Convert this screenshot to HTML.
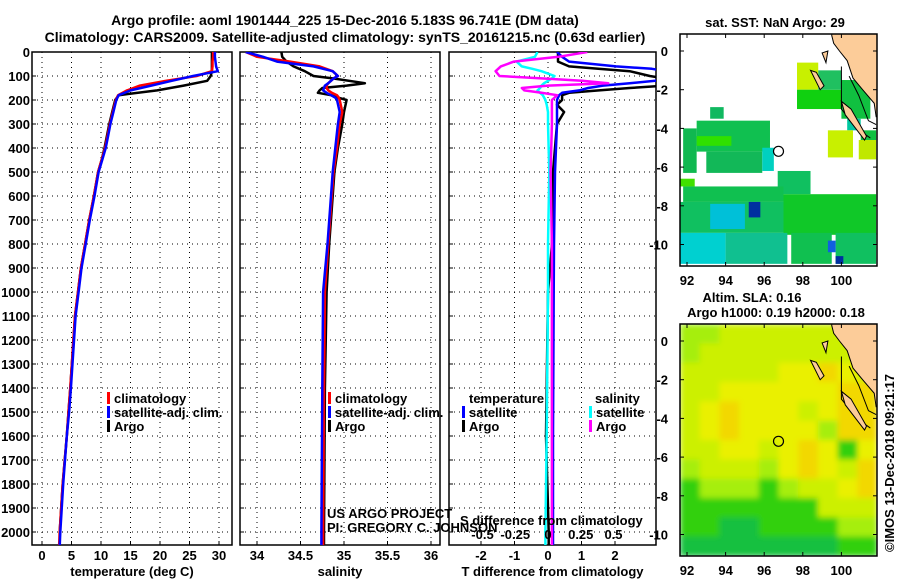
<!DOCTYPE html>
<html><head><meta charset="utf-8"><style>
body{margin:0;background:#fff}
svg{display:block;font-family:"Liberation Sans",Arial,sans-serif}
.b{font-weight:bold;font-size:13px}
.t{font-weight:bold;font-size:14px}
</style></head><body>
<svg id="svg" width="900" height="580" viewBox="0 0 900 580">
<defs><filter id="blur" x="0" y="0" width="1" height="1"><feGaussianBlur stdDeviation="3" edgeMode="duplicate"/></filter></defs>
<text class="t" x="345" y="25" text-anchor="middle">Argo profile: aoml 1901444_225 15-Dec-2016 5.183S 96.741E (DM data)</text>
<text class="t" x="345" y="42" text-anchor="middle">Climatology: CARS2009. Satellite-adjusted climatology: synTS_20161215.nc (0.63d earlier)</text>
</svg>
<script>
// ---------- data ----------
const depthT = [0,20,40,60,80,100,120,140,160,180,200,250,300,350,400,450,500,600,700,800,900,1000,1100,1400,1500,1600,1800,2000,2060];
const tempClim = [29,29,28.9,28.9,28.8,26.2,21,16.6,14.4,12.9,12.5,12.0,11.5,11.1,10.7,10.1,9.5,8.8,8,7.3,6.6,6.1,5.6,4.8,4.5,4.2,3.5,3.0,2.9];
const tempArgo = [28.8,28.8,28.8,28.8,28.8,28.6,28,24,19.5,13,12.4,11.9,11.4,11.0,10.6,10.1,9.5,8.8,8,7.3,6.6,6.1,5.6,4.8,4.5,4.2,3.5,3.0,3.0];
const tempSat  = [29.3,29.3,29.4,29.5,29.8,25.6,22,18.5,15,13,12.6,12.1,11.6,11.2,10.8,10.2,9.6,8.9,8.1,7.4,6.7,6.2,5.7,4.9,4.6,4.2,3.6,3.1,3.0];
const depthS = [0,20,40,60,80,100,110,130,140,150,160,170,180,190,200,250,300,400,500,600,800,1000,1400,2000,2060];
const salClim = [33.87,34.0,34.38,34.72,34.87,34.93,34.88,34.82,34.8,34.8,34.82,34.86,34.92,34.94,34.95,34.98,34.95,34.92,34.88,34.86,34.82,34.78,34.77,34.76,34.76];
const salArgo = [34.28,34.29,34.34,34.42,34.55,34.65,34.87,35.24,35.03,34.75,34.72,34.7,34.85,34.93,35.03,35.0,34.98,34.93,34.89,34.87,34.83,34.8,34.78,34.77,34.77];
const salSat  = [33.87,34.07,34.23,34.65,34.87,34.93,34.88,34.82,34.78,34.77,34.76,34.8,34.85,34.9,34.92,34.95,34.93,34.9,34.87,34.85,34.81,34.76,34.75,34.74,34.74];
const depthD = [0,20,40,60,70,80,100,110,120,130,140,150,160,170,180,200,220,250,300,500,800,1000,1600,2000,2060];
const dTSat  = [0.27,0.42,0.63,2.03,3.1,3.5,3.5,3.4,3.2,2.44,1.64,1.2,0.93,0.42,0.33,0.27,0.27,0.27,0.27,0.21,0.18,0.17,0.15,0.15,0.15];
const dTArgo = [0.3,0.3,0.3,0.63,1.5,2.44,3.04,3.5,3.5,3.5,3.5,2.44,1.52,0.63,0.42,0.42,0.27,0.48,0.27,0.15,0.12,0.0,-0.06,0.02,0.02];
const dSArgo = [0.3,0.08,-0.26,-0.36,-0.38,-0.4,-0.37,-0.05,0.26,0.46,0,-0.2,-0.18,-0.05,0.07,0.03,0.03,0.03,0.03,0.02,0.03,0.03,0.03,0.03,0.03];
const dSSat  = [-0.08,-0.1,-0.24,-0.2,-0.12,-0.05,0.05,0.03,0,-0.03,-0.05,-0.06,-0.08,-0.06,-0.04,-0.02,-0.01,0,0,0.01,0,0,-0.01,-0.02,-0.02];
const depthTicks = [0,100,200,300,400,500,600,700,800,900,1000,1100,1200,1300,1400,1500,1600,1700,1800,1900,2000];
const tempTicks = [0,5,10,15,20,25,30];
const salTicks = [34,34.5,35,35.5,36];
const dTTicks = [-2,-1,0,1,2];
const dSTicks = [-0.5,-0.25,0,0.25,0.5];
// SLA grid (rows north->south, cols west->east)
const slaRows = ["ggyyyyyyyy","gyyyyyyyyy","yyyyyYYoYy","yyYYYYYYoo","yYoYYYyYoo","yYoYYYYgoo","yyYYyYoYGY","gyyygYoYyo","GgggGgyyYo","GGGGGGGyyy","GGDDGGGGgg","DDDDDDDDGG"];
const slaColors = {g:"#a6ee10",y:"#ccf000",Y:"#eaf000",o:"#f2d800",G:"#30d010",D:"#12c040"};
// SST patches: [lon0, lat0, lon1, lat1, color]
const sstPatches = [
 [97.7,-0.6,98.8,-2.0,"#c8f000"],[97.7,-2.0,100.0,-3.0,"#10d010"],[98.8,-1.0,100.0,-2.0,"#20c060"],
 [100.0,-1.5,101.5,-3.5,"#10c040"],[100.3,-3.5,101.0,-4.1,"#00c8a0"],
 [99.3,-4.1,100.6,-5.5,"#c8f000"],[100.9,-4.6,101.8,-5.6,"#c0e800"],[101.0,-4.1,101.8,-4.6,"#10c040"],
 [93.2,-2.9,93.9,-3.5,"#10b860"],[91.8,-4.0,92.5,-6.3,"#10b850"],[92.5,-3.6,96.3,-5.2,"#10c050"],
 [93.0,-5.2,95.9,-6.3,"#12b858"],[95.9,-5.0,96.5,-6.2,"#00d0c0"],[92.5,-4.4,94.3,-4.9,"#30e000"],
 [96.7,-6.2,98.4,-7.4,"#10c060"],[91.6,-6.6,92.4,-7.0,"#40e000"],
 [91.8,-7.0,97.0,-7.8,"#10c050"],[97.0,-7.4,101.8,-9.5,"#10c828"],[91.6,-7.8,97.0,-9.4,"#10c060"],
 [93.2,-7.9,95.0,-9.2,"#00c0d8"],[95.2,-7.8,95.8,-8.6,"#0030a0"],
 [91.6,-9.4,94.0,-11.0,"#00d0d0"],[94.0,-9.4,97.2,-11.0,"#10c090"],[97.4,-9.4,99.5,-11.0,"#10c050"],
 [99.7,-9.4,101.8,-11.0,"#10c060"],[99.7,-10.6,100.1,-11.0,"#0030a0"],[99.3,-9.8,99.7,-10.4,"#1060e0"]
];
const argoLon = 96.741, argoLat = -5.183;
const coastLon = [99.5,99.6,99.9,100.3,100.6,101.1,101.7,101.8];
const coastLat = [0.8,0.4,0,-0.5,-1.4,-2.0,-2.7,-3.4];

// ---------- helpers ----------
const NS="http://www.w3.org/2000/svg", svg=document.getElementById('svg');
function el(tag,attrs,parent){const e=document.createElementNS(NS,tag);for(const k in attrs)e.setAttribute(k,attrs[k]);(parent||svg).appendChild(e);return e;}
function txt(s,x,y,cls,anchor,parent){const e=el('text',{x:x,y:y,class:cls||'b','text-anchor':anchor||'middle'},parent);e.textContent=s;return e;}
const yD = d => 52 + d*0.24;
const PB=545;
const panels = [
 {x0:32,x1:232,fx:v=>42+5.9*v,ticks:tempTicks,lab:v=>String(v),title:"temperature (deg C)",name:"temperature"},
 {x0:240,x1:440,fx:v=>257+87*(v-34),ticks:salTicks,lab:v=>String(v),title:"salinity",name:"salinity"},
 {x0:449,x1:656,fx:v=>548+33.5*v,ticks:dTTicks,lab:v=>String(v),title:"T difference from climatology",name:"difference"}
];
const fS = v => 548+131*v;
panels.forEach((p,i)=>{
  const g=el('g',{});
  
  
  const cp=el('clipPath',{id:'cp'+i},g); el('rect',{x:p.x0,y:52,width:p.x1-p.x0,height:PB-52},cp);
  depthTicks.forEach(d=>{const l=el('line',{x1:p.x0,x2:p.x1,y1:yD(d),y2:yD(d),stroke:'#000','stroke-width':1,'stroke-dasharray':'1 4'},g);
     
    el('line',{x1:p.x0,x2:p.x0+4,y1:yD(d),y2:yD(d),stroke:'#000'},g);});
  p.ticks.forEach(v=>{const x=p.fx(v); el('line',{x1:x,x2:x,y1:52,y2:PB,stroke:'#000','stroke-dasharray':'1 4'},g);
    el('line',{x1:x,x2:x,y1:PB,y2:PB-4,stroke:'#000'},g);
    const t=txt(p.lab(v),x,560,'b','middle',g);  });
  el('rect',{x:p.x0,y:52,width:p.x1-p.x0,height:PB-52,fill:'none',stroke:'#000','stroke-width':1.5},g);
  const tt=txt(p.title,(p.x0+p.x1)/2,576,'b','middle',g);
   
  p.g=g;
});
depthTicks.forEach(d=>{const t=txt(String(d),30,yD(d)+5,'b','end');  });

function line(g,clip,ds,vs,f,color,w,name){
  const pts=ds.map((d,i)=>f(vs[i]).toFixed(1)+','+yD(d).toFixed(1)).join(' ');
  const pl=el('polyline',{points:pts,fill:'none',stroke:color,'stroke-width':w,'clip-path':'url(#'+clip+')','stroke-linejoin':'round'},g);
   
}
line(panels[0].g,'cp0',depthT,tempArgo,panels[0].fx,'#000',2.5,'temp-argo-line');
line(panels[0].g,'cp0',depthT,tempClim,panels[0].fx,'#f00',2.5,'temp-climatology-line');
line(panels[0].g,'cp0',depthT,tempSat,panels[0].fx,'#00f',2.5,'temp-satellite-line');
line(panels[1].g,'cp1',depthS,salArgo,panels[1].fx,'#000',2.5,'sal-argo-line');
line(panels[1].g,'cp1',depthS,salClim,panels[1].fx,'#f00',2.5,'sal-climatology-line');
line(panels[1].g,'cp1',depthS,salSat,panels[1].fx,'#00f',2.5,'sal-satellite-line');
line(panels[2].g,'cp2',depthD,dTArgo,panels[2].fx,'#000',2.5,'dT-argo-line');
line(panels[2].g,'cp2',depthD,dTSat,panels[2].fx,'#00f',2.5,'dT-satellite-line');
line(panels[2].g,'cp2',depthD,dSSat,fS,'#0ff',2.5,'dS-satellite-line');
line(panels[2].g,'cp2',depthD,dSArgo,fS,'#f0f',2.5,'dS-argo-line');

function legend(g,x,y,color,label){
  const r=el('rect',{x:x,y:y-6,width:3,height:12,fill:color},g);
   
  const t=txt(label,x+7,y+5,'b','start',g);
   
}
[[panels[0].g,107],[panels[1].g,328]].forEach(([g,x])=>{
  legend(g,x,398,'#f00','climatology'); legend(g,x,412,'#00f','satellite-adj. clim.'); legend(g,x,426,'#000','Argo');});
let g3=panels[2].g;
let th=txt('temperature',469,403,'b','start',g3);  
let sh=txt('salinity',595,403,'b','start',g3);  
legend(g3,462,412,'#00f','satellite'); legend(g3,462,426,'#000','Argo');
legend(g3,589,412,'#0ff','satellite'); legend(g3,589,426,'#f0f','Argo');
let sd=txt('S difference from climatology',460,525,'b','start',g3);  
dSTicks.forEach(v=>{const t=txt(String(v),fS(v),539,'b','middle',g3);  });
let us=txt('US ARGO PROJECT',327,518,'','start'); us.setAttribute('font-size','13');  
let pi=txt('PI: GREGORY C. JOHNSON',327,532,'','start'); pi.setAttribute('font-size','13');  

// ---------- maps ----------
function makeMap(top,name,fill){
  const L=680,R=877,T=top,B=top+232, lat0y=top+17;
  const fx=lon=>687+(lon-92)*19.3, fy=lat=>lat0y-lat*19.35;
  const g=el('g',{});  
  const cid='mc'+top; const cp=el('clipPath',{id:cid},g); el('rect',{x:L,y:T,width:R-L,height:B-T},cp);
  const inner=el('g',{'clip-path':'url(#'+cid+')'},g);
  fill(inner,fx,fy,L,R,T,B);
  const land=[[fx(coastLon[0]),T]].concat(coastLon.map((lo,i)=>[fx(lo),fy(coastLat[i])])).concat([[R,fy(-3.4)],[R,T]]);
  const lp=el('polygon',{points:land.map(p=>p.join(',')).join(' '),fill:'#fccc99',stroke:'#000','stroke-width':1},inner);
   
  el('polyline',{points:[[fx(100),fy(-0.8)],[fx(100),fy(-3)],[fx(100.8),fy(-4)],[fx(101.5),fy(-4.5)]].map(p=>p.join(',')).join(' '),fill:'none',stroke:'#000'},inner);
  el('polyline',{points:[[fx(100.4),fy(-1.3)],[fx(100.9),fy(-2.3)],[fx(101.4),fy(-3.6)],[fx(101.8),fy(-3.8)]].map(p=>p.join(',')).join(' '),fill:'none',stroke:'#000'},inner);
  el('polygon',{points:[[fx(98.4),fy(-1.0)],[fx(98.7),fy(-1.1)],[fx(99.1),fy(-1.8)],[fx(98.9),fy(-2)]].map(p=>p.join(',')).join(' '),fill:'#fccc99',stroke:'#000'},inner);
  el('polygon',{points:[[fx(99.0),fy(-0.1)],[fx(99.3),fy(0)],[fx(99.2),fy(-0.6)]].map(p=>p.join(',')).join(' '),fill:'#fccc99',stroke:'#000'},inner);
  el('polygon',{points:[[fx(100.0),fy(-2.6)],[fx(100.5),fy(-3)],[fx(101.3),fy(-4.4)],[fx(101.2),fy(-4.6)],[fx(100.2),fy(-3.3)]].map(p=>p.join(',')).join(' '),fill:'#fccc99',stroke:'#000'},inner);
  const c=el('circle',{cx:fx(argoLon),cy:fy(argoLat),r:5,fill:'none',stroke:'#000','stroke-width':1.2},inner);
   
  el('rect',{x:L,y:T,width:R-L,height:B-T,fill:'none',stroke:'#000','stroke-width':1.5},g);
  [0,-2,-4,-6,-8,-10].forEach(la=>{const y=fy(la); el('line',{x1:L,x2:L+4,y1:y,y2:y,stroke:'#000'},g); el('line',{x1:R,x2:R-4,y1:y,y2:y,stroke:'#000'},g);
    const t=txt(String(la),668,y+5,'b','end',g);  });
  [92,94,96,98,100].forEach(lo=>{const x=fx(lo); el('line',{x1:x,x2:x,y1:B,y2:B-4,stroke:'#000'},g); el('line',{x1:x,x2:x,y1:T,y2:T+4,stroke:'#000'},g);
    const t=txt(String(lo),x,B+19,'b','middle',g);  });
}
makeMap(34,'sst-map',(g,fx,fy)=>{
  sstPatches.forEach(p=>{const r=el('rect',{x:fx(p[0]),y:fy(p[1]),width:fx(p[2])-fx(p[0]),height:fy(p[3])-fy(p[1]),fill:p[4]},g);
     });
});
makeMap(324,'sla-map',(g,fx,fy,L,R,T,B)=>{
  const rh=(B-T)/slaRows.length, cw=(R-L)/10;
  const bg=el('g',{filter:'url(#blur)'},g);
  slaRows.forEach((row,i)=>row.split('').forEach((c,j)=>{
    const r=el('rect',{x:L+j*cw,y:T+i*rh,width:cw+0.5,height:rh+0.5,fill:slaColors[c]},bg);
     }));
});
let s1=txt('sat. SST: NaN Argo: 29',775,27);  
let s2=txt('Altim. SLA: 0.16',752,302);  
let s3=txt('Argo h1000: 0.19 h2000: 0.18',776,317);  
let cr=txt('©IMOS 13-Dec-2018 09:21:17',0,0,'','middle'); cr.setAttribute('font-size','13');
cr.setAttribute('transform','translate(894,463) rotate(-90)');
 
</script>
</body></html>
